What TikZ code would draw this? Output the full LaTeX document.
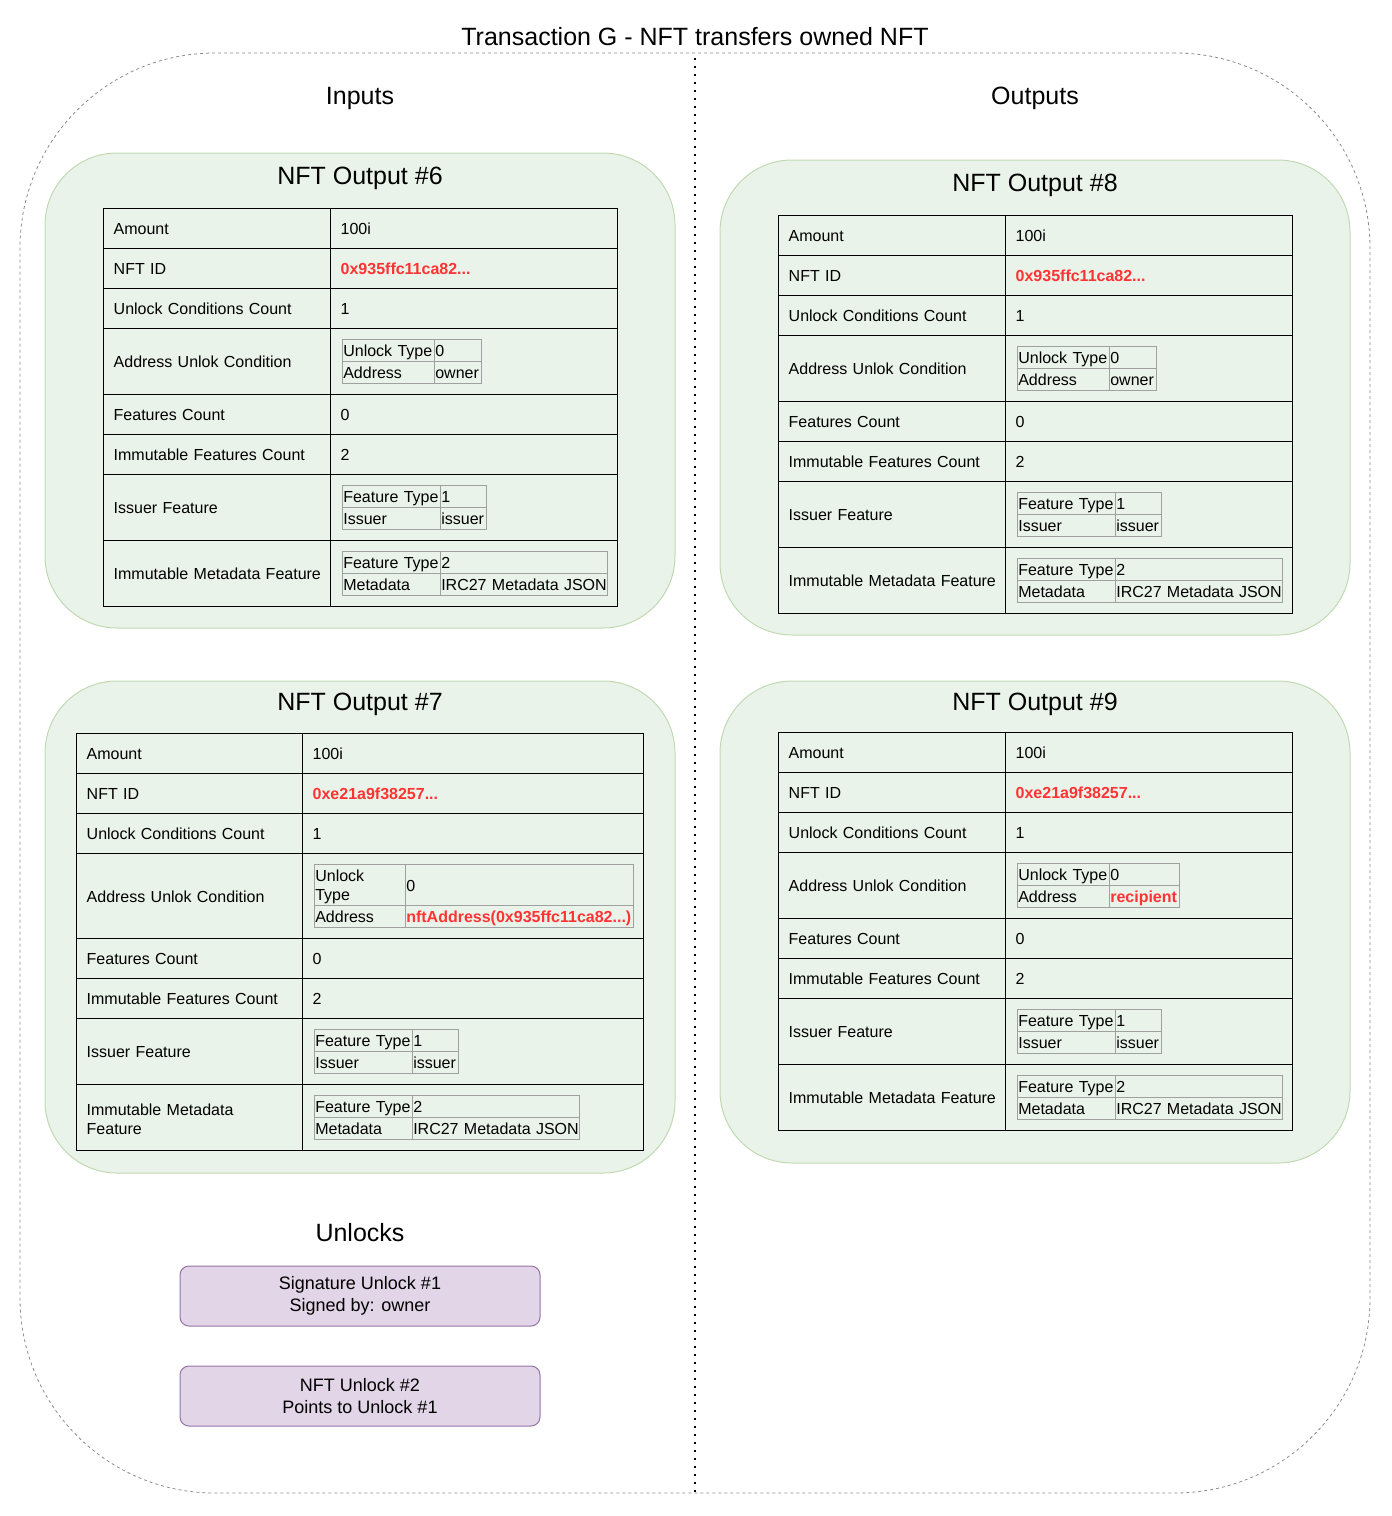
\documentclass[tikz,border=0pt]{standalone}
\usepackage{fontspec}
\setmainfont{Liberation Sans}
\usetikzlibrary{matrix,positioning}
\definecolor{boxfill}{HTML}{EAF3E9}
\definecolor{boxline}{HTML}{C0D9B2}
\definecolor{unlockfill}{HTML}{E1D5E7}
\definecolor{unlockline}{HTML}{9673A6}
\definecolor{idred}{HTML}{FF3333}
\definecolor{subgray}{HTML}{A0A0A0}
\definecolor{framegray}{HTML}{8C8C8C}

\begin{document}
\begin{tikzpicture}[x=1pt,y=-1pt]
    \tikzstyle{frame}=[draw=framegray, dash pattern=on 3pt off 3pt, line width=0.8pt, rounded corners=195pt, minimum width=1350pt, minimum height=1440pt];
    \tikzstyle{divider}=[line width=1.6pt, dash pattern=on 1.6pt off 6.4pt];
    \tikzstyle{nftbox}=[draw=boxline, fill=boxfill, line width=1pt, rounded corners=72pt, minimum width=630pt];
    \tikzstyle{bigtitle}=[anchor=base, inner sep=0pt, font=\fontsize{25}{29}\selectfont];
    \tikzstyle{unlockbox}=[draw=unlockline, fill=unlockfill, line width=1pt, rounded corners=9pt, minimum width=360pt, minimum height=60pt, align=center, font=\fontsize{18}{22}\selectfont];
    \tikzstyle{nobreak}=[execute at begin node={\hyphenpenalty=10000\relax\exhyphenpenalty=10000\relax\leavevmode\vrule height 15pt depth 3.4pt width 0pt\relax}];
    \tikzstyle{maintab}=[matrix of nodes, nodes in empty cells, inner sep=0pt, row sep=-1pt, column sep=-1pt,
        nodes={draw=black, line width=1pt, outer sep=0pt, anchor=center, minimum height=40pt, inner xsep=10pt, inner ysep=1pt, align=left, nobreak, font=\fontsize{16}{19}\selectfont},
        column 1/.style={nodes={text width=207pt}}, column 2/.style={nodes={text width=267pt}},
        row 4/.style={nodes={minimum height=66pt}}, row 7/.style={nodes={minimum height=66pt}}, row 8/.style={nodes={minimum height=66pt}}];
    \tikzstyle{subtab}=[matrix of nodes, inner sep=0pt, row sep=-0.8pt, column sep=-0.8pt,
        nodes={draw=subgray, line width=0.8pt, outer sep=0pt, anchor=center, minimum height=22pt, inner xsep=1pt, inner ysep=0pt, align=left, nobreak, font=\fontsize{16}{19}\selectfont},
        column 1/.style={nodes={text width=96pt}}];

    \useasboundingbox (0,0) rectangle (1392,1516);

    % frame and divider
    \node (frame) at (695,773) [frame] {};
    \node (title) at (695,45) [bigtitle] {Transaction G - NFT transfers owned NFT};
    \coordinate (divtop) at (695,58);
    \coordinate (divbot) at (695,1493);
    \draw[divider] (divtop) -- (divbot);

    \node (inputs) at (360,104) [bigtitle] {Inputs};
    \node (outputs) at (1035,104) [bigtitle] {Outputs};

    % NFT Output #6
    \node (box6) at (360,390.5) [nftbox, minimum height=475pt] {};
    \node (head6) at (360,184) [bigtitle] {NFT Output \#6};
    \matrix (t6) at (103,208) [maintab, anchor=north west] {
        Amount & 100i \\
        NFT ID & \textcolor{idred}{\textbf{0x935ffc11ca82...}} \\
        Unlock Conditions Count & 1 \\
        Address Unlok Condition & \\
        Features Count & 0 \\
        Immutable Features Count & 2 \\
        Issuer Feature & \\
        Immutable~Metadata~Feature & \\
    };
    \matrix (t6a) [subtab, right=11pt of t6-4-2.west, column 1/.style={nodes={text width=90pt}}, column 2/.style={nodes={text width=45pt}}] {
        Unlock~Type & 0 \\
        Address & owner \\
    };
    \matrix (t6b) [subtab, right=11pt of t6-7-2.west, column 2/.style={nodes={text width=44pt}}] {
        Feature~Type & 1 \\
        Issuer & issuer \\
    };
    \matrix (t6c) [subtab, right=11pt of t6-8-2.west, column 2/.style={nodes={text width=165pt}}] {
        Feature~Type & 2 \\
        Metadata & IRC27~Metadata~JSON \\
    };

    % NFT Output #7
    \node (box7) at (360,927) [nftbox, minimum height=492pt] {};
    \node (head7) at (360,710) [bigtitle] {NFT Output \#7};
    \matrix (t7) at (76,733) [maintab, anchor=north west,
        column 1/.style={nodes={text width=206pt}}, column 2/.style={nodes={text width=321pt}},
        row 4/.style={nodes={minimum height=85pt}}] {
        Amount & 100i \\
        NFT ID & \textcolor{idred}{\textbf{0xe21a9f38257...}} \\
        Unlock Conditions Count & 1 \\
        Address Unlok Condition & \\
        Features Count & 0 \\
        Immutable Features Count & 2 \\
        Issuer Feature & \\
        {Immutable Metadata\\Feature} & \\
    };
    \matrix (t7a) [subtab, right=11pt of t7-4-2.west, column 1/.style={nodes={text width=89pt}}, column 2/.style={nodes={text width=226pt}},
        row 1/.style={nodes={minimum height=41pt}}] {
        {Unlock\\Type} & 0 \\
        Address & \textcolor{idred}{\textbf{nftAddress(0x935ffc11ca82...)}} \\
    };
    \matrix (t7b) [subtab, right=11pt of t7-7-2.west, column 2/.style={nodes={text width=44pt}}] {
        Feature~Type & 1 \\
        Issuer & issuer \\
    };
    \matrix (t7c) [subtab, right=11pt of t7-8-2.west, column 2/.style={nodes={text width=165pt}}] {
        Feature~Type & 2 \\
        Metadata & IRC27~Metadata~JSON \\
    };

    % NFT Output #8
    \node (box8) at (1035,397.5) [nftbox, minimum height=475pt] {};
    \node (head8) at (1035,191) [bigtitle] {NFT Output \#8};
    \matrix (t8) at (778,215) [maintab, anchor=north west] {
        Amount & 100i \\
        NFT ID & \textcolor{idred}{\textbf{0x935ffc11ca82...}} \\
        Unlock Conditions Count & 1 \\
        Address Unlok Condition & \\
        Features Count & 0 \\
        Immutable Features Count & 2 \\
        Issuer Feature & \\
        Immutable~Metadata~Feature & \\
    };
    \matrix (t8a) [subtab, right=11pt of t8-4-2.west, column 1/.style={nodes={text width=90pt}}, column 2/.style={nodes={text width=45pt}}] {
        Unlock~Type & 0 \\
        Address & owner \\
    };
    \matrix (t8b) [subtab, right=11pt of t8-7-2.west, column 2/.style={nodes={text width=44pt}}] {
        Feature~Type & 1 \\
        Issuer & issuer \\
    };
    \matrix (t8c) [subtab, right=11pt of t8-8-2.west, column 2/.style={nodes={text width=165pt}}] {
        Feature~Type & 2 \\
        Metadata & IRC27~Metadata~JSON \\
    };

    % NFT Output #9
    \node (box9) at (1035,922) [nftbox, minimum height=482pt] {};
    \node (head9) at (1035,710) [bigtitle] {NFT Output \#9};
    \matrix (t9) at (778,732) [maintab, anchor=north west] {
        Amount & 100i \\
        NFT ID & \textcolor{idred}{\textbf{0xe21a9f38257...}} \\
        Unlock Conditions Count & 1 \\
        Address Unlok Condition & \\
        Features Count & 0 \\
        Immutable Features Count & 2 \\
        Issuer Feature & \\
        Immutable~Metadata~Feature & \\
    };
    \matrix (t9a) [subtab, right=11pt of t9-4-2.west, column 1/.style={nodes={text width=90pt}}, column 2/.style={nodes={text width=68pt}}] {
        Unlock~Type & 0 \\
        Address & \textcolor{idred}{\textbf{recipient}} \\
    };
    \matrix (t9b) [subtab, right=11pt of t9-7-2.west, column 2/.style={nodes={text width=44pt}}] {
        Feature~Type & 1 \\
        Issuer & issuer \\
    };
    \matrix (t9c) [subtab, right=11pt of t9-8-2.west, column 2/.style={nodes={text width=165pt}}] {
        Feature~Type & 2 \\
        Metadata & IRC27~Metadata~JSON \\
    };

    % unlocks
    \node (unlocks) at (360,1241) [bigtitle] {Unlocks};
    \node (sig1) at (360,1296) [unlockbox] {Signature Unlock \#1\\Signed by: owner};
    \node (nft2) at (360,1396) [unlockbox] {NFT Unlock \#2\\Points to Unlock \#1};
\end{tikzpicture}
\end{document}
